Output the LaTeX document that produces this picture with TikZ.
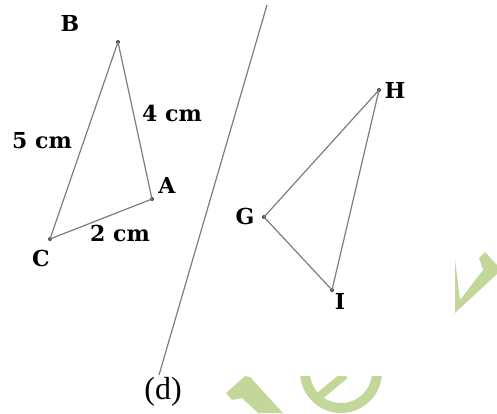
\documentclass[tikz,border=0pt]{standalone}
\usepackage{fontspec}
\setmainfont{Liberation Serif}
\newfontfamily\lblfont{DejaVu Serif}
\usepackage{xcolor}
\usetikzlibrary{positioning}
\definecolor{linegray}{RGB}{125,125,125}
\definecolor{wmgreen}{RGB}{196,215,155}

\begin{document}
\begin{tikzpicture}[x=0.5pt,y=-0.5pt,
    vtx/.style={circle,fill=black!75,inner sep=0pt,minimum size=2pt},
    lbl/.style={font=\lblfont\bfseries\fontsize{11}{13}\selectfont,inner sep=0pt},
    side/.style={draw=linegray,line width=0.6pt}]
  \useasboundingbox (0,0) rectangle (497,413);

  % watermark
  \fill[wmgreen] (455,260) -- (455,313) -- (497,274) -- (497,265) -- (485,252)
                 -- (479,258) -- (483,270) -- (460,300) -- cycle;
  \fill[wmgreen] (226,393) -- (245,376) -- (250,377) -- (283,413) -- (258,413)
                 -- (242,398) -- (232,400) -- cycle;
  \begin{scope}
    \clip (290,376) rectangle (400,413);
    \fill[wmgreen,even odd rule] (341,372) circle (41) (341,372) circle (31);
    \draw[wmgreen,line width=4pt] (316,399) -- (345,375);
  \end{scope}

  % line (d)
  \coordinate (dtop) at (267,5);
  \coordinate (dbot) at (159,375);
  \draw[side] (dtop) -- (dbot);
  \node[font=\fontsize{16}{18}\selectfont] (dlab) at (163,392) {(d)};

  % triangle ABC
  \node[vtx] (B) at (118,42) {};
  \node[vtx] (A) at (152,199) {};
  \node[vtx] (C) at (50,239) {};
  \draw[side] (B.center) -- (A.center) -- (C.center) -- cycle;
  \node[lbl] (Blab) at (70,23) {B};
  \node[lbl] (Alab) at (167,185) {A};
  \node[lbl] (Clab) at (41,258) {C};
  \node[lbl] (BA) at (172,113) {4 cm};
  \node[lbl] (BC) at (42,141) {5 cm};
  \node[lbl] (AC) at (120,233) {2 cm};

  % triangle GHI
  \node[vtx] (H) at (379,90) {};
  \node[vtx] (G) at (264,217) {};
  \node[vtx] (I) at (332,290) {};
  \draw[side] (H.center) -- (G.center) -- (I.center) -- cycle;
  \node[lbl] (Hlab) at (395,90) {H};
  \node[lbl] (Glab) at (245,216) {G};
  \node[lbl] (Ilab) at (340,301) {I};
\end{tikzpicture}
\end{document}
